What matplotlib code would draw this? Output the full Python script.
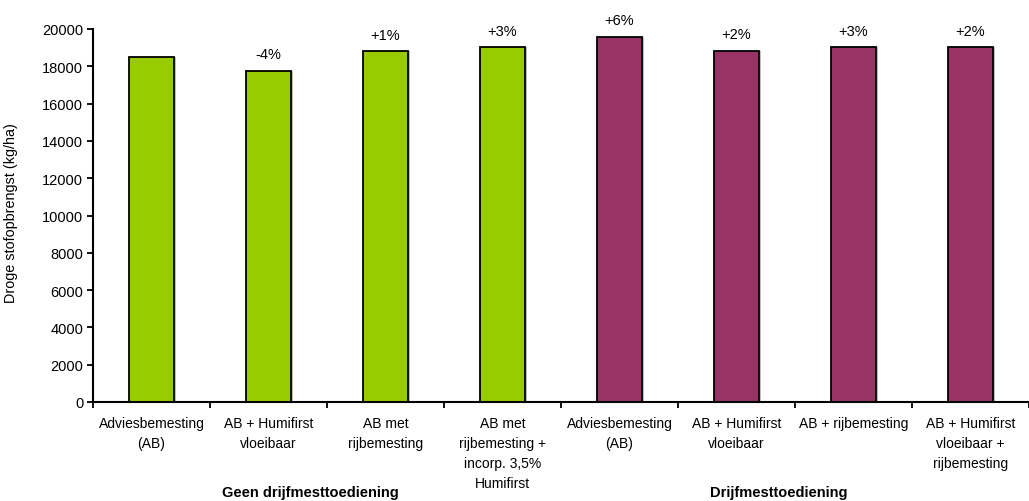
import matplotlib
matplotlib.use("Agg")
import matplotlib.pyplot as plt
import numpy as np

plt.rcParams['font.family'] = ['Liberation Sans', 'DejaVu Sans']

categories = [
    "Adviesbemesting\n(AB)",
    "AB + Humifirst\nvloeibaar",
    "AB met\nrijbemesting",
    "AB met\nrijbemesting +\nincorp. 3,5%\nHumifirst",
    "Adviesbemesting\n(AB)",
    "AB + Humifirst\nvloeibaar",
    "AB + rijbemesting",
    "AB + Humifirst\nvloeibaar +\nrijbemesting",
]
values = [18500, 17750, 18800, 19020, 19580, 18820, 19020, 19020]
pct_labels = ["", "-4%", "+1%", "+3%", "+6%", "+2%", "+3%", "+2%"]
groups = ["Geen drijfmesttoediening", "Drijfmesttoediening"]
group_members = [[0, 1, 2, 3], [4, 5, 6, 7]]
colors = ["#99CC00"] * 4 + ["#993366"] * 4

W, H = 1029, 502
fig = plt.figure(figsize=(W / 100, H / 100), dpi=100)
ax_left, ax_right, ax_top, ax_bottom = 93, 1029, 30, 403
ax = fig.add_axes([ax_left / W, 1 - ax_bottom / H, (ax_right - ax_left) / W, (ax_bottom - ax_top) / H])

x = np.arange(len(categories))
# shadow
ax.bar(x + 0.015, values, width=0.39, color="#bdbdbd", edgecolor="none", zorder=1)
ax.bar(x, values, width=0.39, color=colors, edgecolor="black", linewidth=1.3, zorder=2)

for xi, v, lab in zip(x, values, pct_labels):
    if lab:
        ax.annotate(lab, (xi, v), xytext=(0, 7), textcoords="offset points",
                    ha="center", va="bottom", fontsize=10.5)

ax.set_ylim(0, 20000)
ax.set_yticks(np.arange(0, 20001, 2000))
ax.set_xlim(-0.5, -0.5 + (ax_right - ax_left) / 118.3)
ax.set_xticks(np.arange(-0.5, len(categories), 1.0))
ax.set_xticklabels([])
ax.set_xticks(x, minor=True)
ax.set_xticklabels(categories, minor=True, fontsize=10, linespacing=1.55)
ax.tick_params(axis="x", which="minor", length=0, pad=10)
ax.tick_params(axis="x", which="major", length=4, width=1.3, direction="out")
ax.tick_params(axis="y", length=4, width=1.3, direction="out", labelsize=10.5, pad=3)

for s in ["top", "right"]:
    ax.spines[s].set_visible(False)
for s in ["left", "bottom"]:
    ax.spines[s].set_linewidth(1.5)

ax.set_ylabel("Droge stofopbrengst (kg/ha)", fontsize=10.4)
ax.yaxis.set_label_coords(-(ax_left - 18) / (ax_right - ax_left), 0.51)

for g, mem in zip(groups, group_members):
    gx = np.mean(mem) - 0.14
    ax.text(gx, -0.241, g, transform=ax.get_xaxis_transform(), ha="center", va="center",
            fontsize=10.5, fontweight="bold")

fig.savefig("out.png", dpi=100)
